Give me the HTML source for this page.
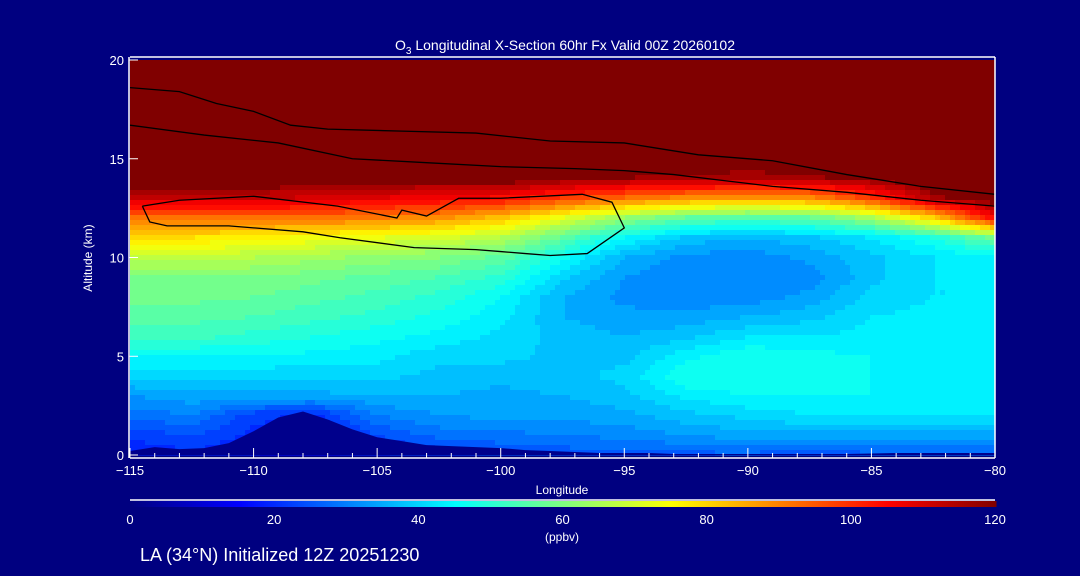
<!DOCTYPE html>
<html><head><meta charset="utf-8"><style>
html,body{margin:0;padding:0;background:#000080;}
#wrap{position:relative;width:1080px;height:576px;background:#000080;overflow:hidden;font-family:"Liberation Sans",sans-serif;}
svg text{fill:#fff;font-family:"Liberation Sans",sans-serif;}
</style></head><body>
<div id="wrap">
<svg id="svg" width="1080" height="576">
  <g id="field"></g>
  <g id="terrain"></g>
  <g id="contours"></g>
  <g id="axes"></g>
  <text x="565" y="50" text-anchor="middle" font-size="14">O<tspan font-size="10" dy="4">3</tspan><tspan dy="-4"> Longitudinal X-Section 60hr  Fx Valid 00Z 20260102</tspan></text>
  <text x="92" y="258" text-anchor="middle" font-size="12" transform="rotate(-90 92 258)">Altitude (km)</text>
  <text x="562" y="494" text-anchor="middle" font-size="12">Longitude</text>
  <text x="562" y="541" text-anchor="middle" font-size="12">(ppbv)</text>
  <text x="140" y="561" font-size="18">LA (34°N) Initialized 12Z 20251230</text>
  <g id="cbar"></g>
</svg>
</div>
<script>
const lons=[-115,-112.5,-110,-107.5,-105,-102.5,-100,-97.5,-95,-92.5,-90,-87.5,-85,-82.5,-80];
const alts=[0,1,2,3,4,5,6,7,8,9,10,11,12,13,14,15,16,17,18,19,20];
const o3z0=[18,20,18,16,20,22,24,25,26,26,26,25,26,26,26];
const o3z1=[22,24,20,18,24,28,29,30,31,33,35,35,35,35,35];
const o3z2=[28,30,22,20,30,33,34,34,35,38,40,42,42,42,42];
const o3z3=[33,35,35,35,36,36,35,36,38,43,45,45,45,44,44];
const o3z4=[40,40,40,40,40,38,37,38,40,48,48,47,45,44,44];
const o3z5=[45,45,45,44,43,40,40,38,38,44,48,46,45,44,44];
const o3z6=[52,52,50,48,46,44,41,38,36,38,42,42,43,43,43];
const o3z7=[55,55,54,52,50,47,43,36,34,34,36,38,42,43,43];
const o3z8=[58,58,57,55,53,50,45,36,32,31,31,34,40,42,42];
const o3z9=[60,60,60,58,56,54,50,40,33,30,30,31,38,42,42];
const o3z10=[68,68,66,64,62,60,56,46,36,32,31,34,38,42,44];
const o3z11=[78,78,76,74,72,70,66,56,45,38,36,38,42,48,58];
const o3z12=[92,92,92,92,90,88,82,72,62,56,54,56,64,80,105];
const o3z13=[112,112,112,110,108,106,104,98,92,88,86,88,98,115,120];
const o3z14=[120,120,120,120,120,120,120,118,116,115,114,115,118,120,120];
const o3top=[120,120,120,120,120,120,120,120,120,120,120,120,120,120,120];
const o3rows=[o3z0,o3z1,o3z2,o3z3,o3z4,o3z5,o3z6,o3z7,o3z8,o3z9,o3z10,o3z11,o3z12,o3z13,o3z14,o3top,o3top,o3top,o3top,o3top,o3top];
const terrainLons=[-115,-114,-113,-112,-111,-110,-109,-108,-107,-106,-105,-104,-103,-102,-101,-100,-99,-98,-97,-96,-95,-94,-93,-92,-90,-88,-86,-84,-82,-80];
const terrainAlt=[0.2,0.4,0.3,0.35,0.6,1.2,1.9,2.2,1.8,1.3,0.9,0.7,0.5,0.45,0.4,0.35,0.25,0.2,0.15,0.1,0.1,0.1,0.05,0.05,0.05,0.05,0.05,0.1,0.1,0.1];
const contourTopLon=[-115,-113,-111.5,-110,-108.5,-107,-104,-101,-98,-95,-92,-89,-86,-83,-80];
const contourTopAlt=[18.6,18.4,17.8,17.4,16.7,16.5,16.4,16.3,15.9,15.8,15.2,14.9,14.2,13.6,13.2];
const contour2Lon=[-115,-112,-109,-106,-103,-100,-97,-95,-93,-91,-89,-86,-83,-80];
const contour2Alt=[16.7,16.2,15.8,15.0,14.8,14.6,14.5,14.4,14.2,13.9,13.6,13.3,12.9,12.6];
const contour10Lon=[-114.5,-114.2,-113.5,-111,-108,-106.5,-103.5,-101,-100,-99,-98,-96.5,-95,-95.5,-96.7,-100,-101.7,-103,-104,-104.2,-106.6,-110,-113,-114.5];
const contour10Alt=[12.6,11.8,11.6,11.6,11.3,11.0,10.5,10.4,10.3,10.2,10.1,10.2,11.5,12.8,13.2,13.0,13.0,12.1,12.4,12.0,12.6,13.1,12.9,12.6];
const xTicks=[-115,-110,-105,-100,-95,-90,-85,-80];
const yTicks=[0,5,10,15,20];
const cbTicks=[0,20,40,60,80,100,120];

const X0=130,X1=995,Y0=455,Y1=60;
const sx=v=>X0+(v+115)/35*(X1-X0);
const sy=a=>Y0-a/20*(Y0-Y1);
const NS='http://www.w3.org/2000/svg';
function mk(t,p,a){const e=document.createElementNS(NS,t);for(const k in a)e.setAttribute(k,a[k]);p.appendChild(e);return e;}
function jet(v){
  const t=Math.max(0,Math.min(1,v/120));
  const stops=[[0,0,0,128],[0.125,0,0,255],[0.375,0,255,255],[0.625,255,255,0],[0.875,255,0,0],[1,128,0,0]];
  for(let i=1;i<stops.length;i++){if(t<=stops[i][0]){const a=stops[i-1],b=stops[i];const f=(t-a[0])/(b[0]-a[0]);
    return `rgb(${Math.round(a[1]+(b[1]-a[1])*f)},${Math.round(a[2]+(b[2]-a[2])*f)},${Math.round(a[3]+(b[3]-a[3])*f)})`;}}
  return 'rgb(128,0,0)';
}
function val(lon,alt){
  let i=Math.min(lons.length-2,Math.max(0,Math.floor((lon-lons[0])/2.5)));
  let fx=(lon-lons[i])/2.5;
  let j=Math.min(alts.length-2,Math.max(0,Math.floor(alt)));
  let fy=alt-alts[j];
  const a=o3rows[j][i],b=o3rows[j][i+1],c=o3rows[j+1][i],d=o3rows[j+1][i+1];
  return a*(1-fx)*(1-fy)+b*fx*(1-fy)+c*(1-fx)*fy+d*fx*fy;
}
const field=document.getElementById('field');
const step=5;
for(let py=Y1;py<Y0;py+=step){
  for(let px=X0;px<X1;px+=step){
    const lon=-115+(px+step/2-X0)/(X1-X0)*35;
    const alt=(Y0-(py+step/2))/(Y0-Y1)*20;
    let v=val(lon,alt);
    v=(v>=116)?120:Math.floor(v/3)*3+1.5;
    const r=mk('rect',field,{x:px,y:py,width:Math.min(step,X1-px)+0.5,height:Math.min(step,Y0-py)+0.5,fill:jet(v)});
    
    
  }
}
let d=`M${sx(-115)},${Y0}`;
terrainLons.forEach((l,i)=>{d+=` L${sx(l)},${sy(terrainAlt[i])}`;});
d+=` L${sx(-80)},${Y0} Z`;
const tp=mk('path',document.getElementById('terrain'),{d:d,fill:'#00008c'});


const cg=document.getElementById('contours');
function line(ls,as,name){const pts=ls.map((l,i)=>sx(l)+','+sy(as[i])).join(' ');
  const e=mk('polyline',cg,{points:pts,fill:'none',stroke:'#000','stroke-width':1.3});
  
  }
line(contourTopLon,contourTopAlt,'contour-0-upper');
line(contour2Lon,contour2Alt,'contour-0-lower');
line(contour10Lon,contour10Alt,'contour-10');
const ax=document.getElementById('axes');
mk('line',ax,{x1:X0,y1:Y1-3,x2:X1,y2:Y1-3,stroke:'#fff','stroke-width':1.5});
mk('line',ax,{x1:X0,y1:Y0+3,x2:X1,y2:Y0+3,stroke:'#fff','stroke-width':1.5});
mk('line',ax,{x1:X0-1,y1:Y1-3,x2:X0-1,y2:Y0+3,stroke:'#fff','stroke-width':1.5});
mk('line',ax,{x1:X1,y1:Y1-3,x2:X1,y2:Y0+3,stroke:'#fff','stroke-width':1.5});
for(let l=-115;l<=-80;l++){const big=l%5===0;
  mk('line',ax,{x1:sx(l),y1:Y0+3,x2:sx(l),y2:Y0+3-(big?10:5),stroke:'#fff'});}
xTicks.forEach(l=>{const t=mk('text',ax,{x:sx(l),y:Y0+20,'text-anchor':'middle','font-size':13});
  t.textContent=(l<0?'\u2212':'')+Math.abs(l);
  
  });
yTicks.forEach(a=>{const t=mk('text',ax,{x:X0-6,y:sy(a)+5,'text-anchor':'end','font-size':13});
  t.textContent=a;
  
  
  mk('line',ax,{x1:X0-1,y1:sy(a),x2:X0+8,y2:sy(a),stroke:'#fff'});});
const cb=document.getElementById('cbar');
mk('line',cb,{x1:X0,y1:500,x2:X1,y2:500,stroke:'#fff','stroke-width':1.5});
for(let px=X0;px<X1;px+=2){const v=(px-X0)/(X1-X0)*120;
  const r=mk('rect',cb,{x:px,y:501,width:2.5,height:6,fill:jet(v)});
  
  }
cbTicks.forEach(v=>{const t=mk('text',cb,{x:X0+v/120*(X1-X0),y:524,'text-anchor':'middle','font-size':13});
  t.textContent=v;
  
  });
</script>
</body></html>
